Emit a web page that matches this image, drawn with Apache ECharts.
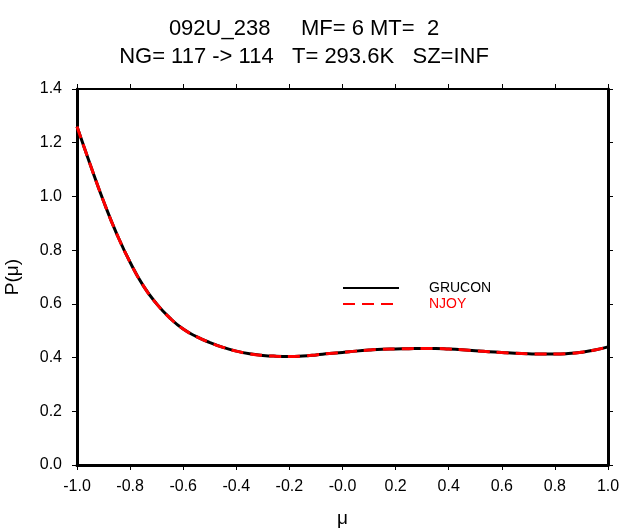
<!DOCTYPE html>
<html>
<head>
<meta charset="utf-8">
<script src="https://cdn.jsdelivr.net/npm/echarts@6/dist/echarts.min.js"></script>
<style>html,body{margin:0;padding:0;background:#fff}#c{width:624px;height:529px}</style>
</head>
<body>
<div id="c"></div>
<script>
var titleLines = ['092U_238     MF= 6 MT=  2', 'NG= 117 -> 114   T= 293.6K   SZ=INF'];
var seriesNames = ['GRUCON', 'NJOY'];
var mu = [-1.00,-0.95,-0.90,-0.85,-0.80,-0.75,-0.70,-0.65,-0.60,-0.55,-0.50,-0.45,-0.40,-0.35,-0.30,-0.25,-0.20,-0.15,-0.10,-0.05,0.00,0.05,0.10,0.15,0.20,0.25,0.30,0.35,0.40,0.45,0.50,0.55,0.60,0.65,0.70,0.75,0.80,0.85,0.90,0.95,1.00];
var grucon = [1.260,1.118,0.982,0.860,0.755,0.667,0.600,0.547,0.506,0.478,0.456,0.438,0.424,0.414,0.408,0.405,0.404,0.406,0.410,0.415,0.419,0.424,0.428,0.431,0.432,0.433,0.434,0.434,0.432,0.429,0.425,0.422,0.419,0.416,0.414,0.413,0.413,0.415,0.420,0.428,0.440];
var njoy = [1.260,1.118,0.982,0.860,0.755,0.667,0.600,0.547,0.506,0.478,0.456,0.438,0.424,0.414,0.408,0.405,0.404,0.406,0.410,0.415,0.419,0.424,0.428,0.431,0.432,0.433,0.434,0.434,0.432,0.429,0.425,0.422,0.419,0.416,0.414,0.413,0.413,0.415,0.420,0.428,0.440];

var FONT = "'Liberation Sans', Arial, sans-serif";
function pairs(xs, ys){ return xs.map(function(x,i){ return [x, ys[i]]; }); }
function fmt(v){ return Math.abs(v) < 1e-9 ? '-0.0' : v.toFixed(1); }

var chart = echarts.init(document.getElementById('c'), null, {renderer:'canvas'});
chart.setOption({
  animation: false,
  backgroundColor: '#fff',
  textStyle: {fontFamily: FONT},
  title: {
    text: titleLines.join('\n'),
    left: 299, textAlign: 'center', top: 10,
    textStyle: {fontFamily: FONT, fontSize: 22, fontWeight: 'normal', color: '#000', lineHeight: 28}
  },
  legend: {
    orient: 'vertical', left: 337, top: 275,
    itemWidth: 56, itemHeight: 10, itemGap: 0,
    itemStyle: {color: 'rgba(0,0,0,0)', borderWidth: 0, opacity: 0},
    data: [
      {name: seriesNames[0], textStyle: {color: '#000'}},
      {name: seriesNames[1], textStyle: {color: '#ff0000'}}
    ],
    textStyle: {fontFamily: FONT, fontSize: 14, lineHeight: 16, padding: [0,0,0,25]}
  },
  grid: {left: 77, right: 16, top: 89, bottom: 64, containLabel: false, outerBoundsMode: 'none'},
  xAxis: [{
    type: 'value', min: -1, max: 1, interval: 0.2, position: 'bottom',
    name: 'μ', nameLocation: 'middle', nameGap: 44,
    nameTextStyle: {fontFamily: FONT, fontSize: 19, color: '#000'},
    axisLine: {show: true, onZero: false, lineStyle: {color: '#000', width: 3}},
    axisTick: {show: true, length: 5, lineStyle: {color: '#000', width: 1}},
    axisLabel: {formatter: fmt, fontFamily: FONT, fontSize: 16, color: '#000', margin: 14},
    splitLine: {show: false}
  }, {
    type: 'value', min: -1, max: 1, interval: 0.2, position: 'top',
    axisLine: {show: true, onZero: false, lineStyle: {color: '#000', width: 2}},
    axisTick: {show: true, length: 5, lineStyle: {color: '#000', width: 1}},
    axisLabel: {show: false}, splitLine: {show: false}
  }],
  yAxis: [{
    type: 'value', min: 0, max: 1.4, interval: 0.2, position: 'left',
    name: 'P(μ)', nameLocation: 'middle', nameGap: 55, nameRotate: 90,
    nameTextStyle: {fontFamily: FONT, fontSize: 19, color: '#000'},
    axisLine: {show: true, onZero: false, lineStyle: {color: '#000', width: 3}},
    axisTick: {show: true, length: 5, lineStyle: {color: '#000', width: 1}},
    axisLabel: {formatter: function(v){ return v.toFixed(1); }, fontFamily: FONT, fontSize: 16, color: '#000', margin: 15},
    splitLine: {show: false}
  }, {
    type: 'value', min: 0, max: 1.4, interval: 0.2, position: 'right',
    axisLine: {show: true, onZero: false, lineStyle: {color: '#000', width: 3}},
    axisTick: {show: true, length: 5, lineStyle: {color: '#000', width: 1}},
    axisLabel: {show: false}, splitLine: {show: false}
  }],
  series: [{
    name: seriesNames[0], type: 'line', data: pairs(mu, grucon), smooth: 0.5,
    symbol: 'none', color: '#000', lineStyle: {color: '#000', width: 3}
  }, {
    name: seriesNames[1], type: 'line', data: pairs(mu, njoy), smooth: 0.5,
    symbol: 'none', color: '#ff0000', lineStyle: {color: '#ff0000', width: 3, type: [12, 7]}
  }]
});
</script>
</body>
</html>
